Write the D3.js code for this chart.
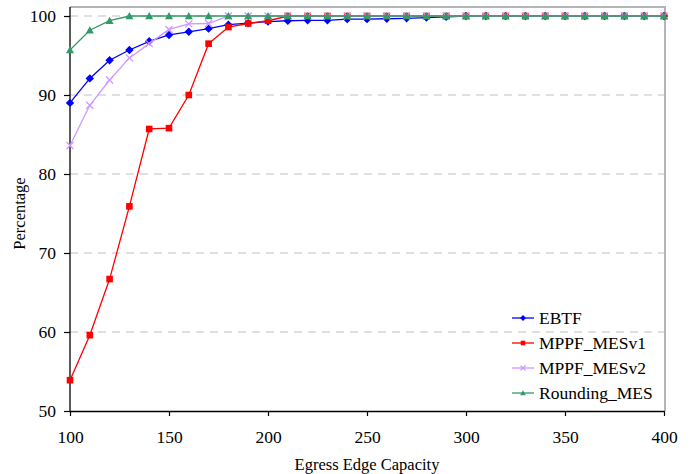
<!DOCTYPE html>
<html>
<head>
<meta charset="utf-8">
<script src="https://cdn.jsdelivr.net/npm/d3@7"></script>
<style>
  body { margin: 0; background: #fff; }
  text { font-family: "Liberation Serif", "Times New Roman", serif; }
</style>
</head>
<body>
<div id="container"></div>
<script>
// DATA
const capacities = d3.range(100, 401, 10);
const ebtf = [89.0, 92.1, 94.4, 95.7, 96.8, 97.6, 98.0, 98.4, 98.9, 99.1, 99.3, 99.4, 99.45, 99.45, 99.6, 99.6, 99.65, 99.7, 99.8, 99.9, 100, 100, 100, 100, 100, 100, 100, 100, 100, 100, 100];
const mppfV1 = [53.9, 59.6, 66.7, 75.9, 85.7, 85.8, 90.0, 96.5, 98.6, 99.05, 99.4, 100, 100, 100, 100, 100, 100, 100, 100, 100, 100, 100, 100, 100, 100, 100, 100, 100, 100, 100, 100];
const mppfV2 = [83.6, 88.7, 91.9, 94.7, 96.5, 98.3, 99.0, 99.05, 100, 100, 100, 100, 100, 100, 100, 100, 100, 100, 100, 100, 100, 100, 100, 100, 100, 100, 100, 100, 100, 100, 100];
const rounding = [95.7, 98.2, 99.4, 100, 100, 100, 100, 100, 100, 100, 100, 100, 100, 100, 100, 100, 100, 100, 100, 100, 100, 100, 100, 100, 100, 100, 100, 100, 100, 100, 100];
const seriesNames = ['EBTF', 'MPPF_MESv1', 'MPPF_MESv2', 'Rounding_MES'];
const xTicks = [100, 150, 200, 250, 300, 350, 400];
const yTicks = [50, 60, 70, 80, 90, 100];

const series = [
  {name: seriesNames[0], values: ebtf, color: '#0000ff', marker: 'diamond'},
  {name: seriesNames[1], values: mppfV1, color: '#ff0000', marker: 'square'},
  {name: seriesNames[2], values: mppfV2, color: '#cc99ff', marker: 'cross'},
  {name: seriesNames[3], values: rounding, color: '#339966', marker: 'triangle'}
];

const width = 690;
const height = 474;
const margin = {top: 16, right: 26, bottom: 63, left: 70};
const plotTop = 7;

const x = d3.scaleLinear([100, 400], [margin.left, width - margin.right]);
const y = d3.scaleLinear([50, 100], [height - margin.bottom, margin.top]);

const svg = d3.select('#container')
  .append('svg')
  .attr('width', width)
  .attr('height', height);

// plot area border (top and right)
svg.append('path')
  .attr('d', `M${x(100)},${plotTop}H${x(400) + 1}V${y(50)}`)
  .attr('fill', 'none')
  .attr('stroke', '#b4b4b4')
  .attr('stroke-width', 2);

// gridlines
svg.append('g')
  .selectAll('line')
  .data(yTicks.slice(1))
  .join('line')
  .attr('x1', x(100))
  .attr('x2', x(400))
  .attr('y1', d => y(d))
  .attr('y2', d => y(d))
  .attr('stroke', '#c0c0c0')
  .attr('stroke-dasharray', '8,6');

// axes
const yAxis = svg.append('g')
  .attr('transform', `translate(${x(100)},0)`)
  .call(d3.axisLeft(y).tickValues(yTicks).tickSize(6).tickPadding(8));
yAxis.select('.domain').attr('d', `M0,${plotTop}V${y(50)}`);

const xAxis = svg.append('g')
  .attr('transform', `translate(0,${y(50)})`)
  .call(d3.axisBottom(x).tickValues(xTicks).tickSize(5).tickSizeOuter(0).tickPadding(15));

[xAxis, yAxis].forEach(g => {
  g.select('.domain').attr('stroke', '#000').attr('stroke-width', 1.3);
  g.selectAll('.tick line').attr('stroke', '#000').attr('stroke-width', 1.2);
  g.selectAll('.tick text')
    .attr('fill', '#000')
    .style('font-family', '"Liberation Serif", serif')
    .style('font-size', '17.5px');
});

// axis titles
svg.append('text')
  .attr('x', (x(100) + x(400)) / 2)
  .attr('y', 470)
  .attr('text-anchor', 'middle')
  .style('font-size', '16.5px')
  .text('Egress Edge Capacity');

svg.append('text')
  .attr('transform', `translate(25,${(y(50) + y(100)) / 2}) rotate(-90)`)
  .attr('text-anchor', 'middle')
  .style('font-size', '16.5px')
  .text('Percentage');

// series
const line = d3.line()
  .x((d, i) => x(capacities[i]))
  .y(d => y(d));

function drawMarker(g, s, k = 1) {
  if (s.marker === 'cross') {
    const r = 3.5 * k;
    return g.append('path')
      .attr('d', `M${-r},${-r}L${r},${r}M${-r},${r}L${r},${-r}`)
      .attr('stroke', s.color)
      .attr('stroke-width', 1.3)
      .attr('fill', 'none');
  }
  let d;
  if (s.marker === 'diamond') {
    const r = 4.2 * k;
    d = `M0,${-r}L${r},0L0,${r}L${-r},0Z`;
  } else if (s.marker === 'square') {
    const r = 3.3 * k;
    d = `M${-r},${-r}H${r}V${r}H${-r}Z`;
  } else {
    const r = 4 * k;
    d = `M0,${-r}L${r},${r * 0.8}H${-r}Z`;
  }
  return g.append('path').attr('d', d).attr('fill', s.color);
}

series.forEach(s => {
  const g = svg.append('g');
  g.append('path')
    .datum(s.values)
    .attr('d', line)
    .attr('fill', 'none')
    .attr('stroke', s.color)
    .attr('stroke-width', 1.3);
  s.values.forEach((v, i) => {
    const m = g.append('g')
      .attr('transform', `translate(${x(capacities[i])},${y(v)})`);
    drawMarker(m, s);
  });
});

// legend
const legend = svg.append('g')
  .attr('transform', 'translate(512,318)');
series.forEach((s, i) => {
  const row = legend.append('g').attr('transform', `translate(0,${i * 25})`);
  row.append('line')
    .attr('x1', 0).attr('x2', 22)
    .attr('stroke', s.color)
    .attr('stroke-width', 1.3);
  const m = row.append('g').attr('transform', 'translate(11,0)');
  drawMarker(m, s, 0.7);
  row.append('text')
    .attr('x', 27)
    .attr('y', 6)
    .style('font-size', '17.5px')
    .text(s.name);
});
</script>
</body>
</html>
